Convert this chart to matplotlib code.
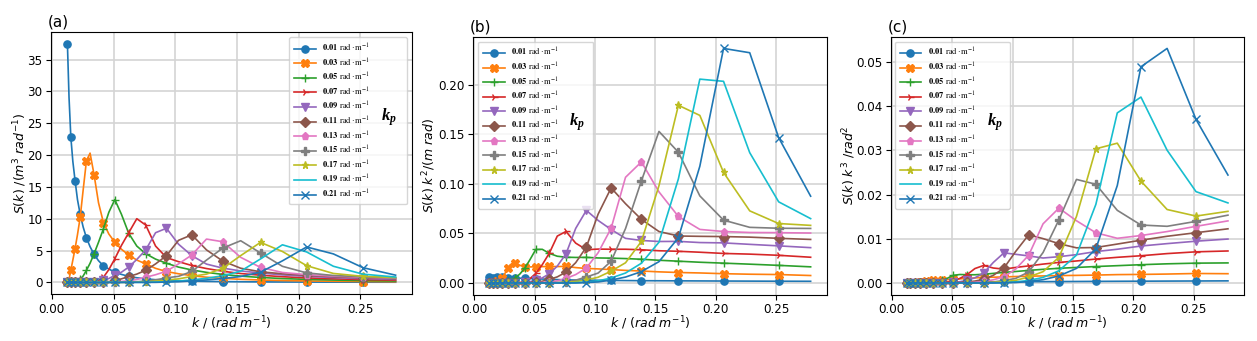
import numpy as np
import matplotlib
matplotlib.use('Agg')
import matplotlib.pyplot as plt
from matplotlib.font_manager import FontProperties

# wavenumber grid (rad/m)
k = [0.01260, 0.01392, 0.01538, 0.01700, 0.01879, 0.02076, 0.02294, 0.02535,
     0.02801, 0.03096, 0.03421, 0.03780, 0.04177, 0.04615, 0.05100, 0.05636,
     0.06228, 0.06882, 0.07604, 0.08403, 0.09285, 0.10260, 0.11337, 0.12528,
     0.13843, 0.15297, 0.16903, 0.18678, 0.20639, 0.22806, 0.25201, 0.27847]

kp_labels = ['0.01', '0.03', '0.05', '0.07', '0.09', '0.11',
             '0.13', '0.15', '0.17', '0.19', '0.21']

# spectra S(k) in m^3 rad^-1 for each peak wavenumber kp
s_kp001 = [37.5, 29.0, 22.8, 19.0, 16.0, 13.0, 10.7, 8.7, 7.0, 5.6, 4.4, 3.4, 2.6, 2.1,
           1.6, 1.25, 0.95, 0.72, 0.55, 0.42, 0.33, 0.26, 0.20, 0.155, 0.12, 0.095,
           0.075, 0.059, 0.046, 0.036, 0.028, 0.022]
s_kp003 = [0.05, 0.5, 1.9, 3.5, 5.3, 7.5, 10.2, 14.5, 19.1, 20.3, 16.9, 12.5, 9.4, 7.6,
           6.3, 5.2, 4.3, 3.5, 2.9, 2.2, 1.7, 1.35, 1.05, 0.81, 0.63, 0.48, 0.37, 0.29,
           0.22, 0.17, 0.134, 0.097]
s_kp005 = [0, 0, 0, 0, 0.02, 0.15, 0.5, 1.0, 1.9, 3.0, 4.5, 6.3, 8.4, 11.0, 13.0, 10.7,
           7.7, 5.7, 4.5, 3.65, 3.0, 2.4, 1.95, 1.57, 1.25, 0.98, 0.77, 0.60, 0.47,
           0.365, 0.28, 0.21]
s_kp007 = [0, 0, 0, 0, 0, 0, 0, 0, 0, 0, 0, 0.3, 0.8, 2.0, 3.7, 5.8, 7.8, 10.0, 9.0,
           5.7, 3.9, 3.25, 2.65, 2.17, 1.75, 1.39, 1.12, 0.89, 0.70, 0.56, 0.44, 0.335]
s_kp009 = [0, 0, 0, 0, 0, 0, 0, 0, 0, 0, 0.03, 0.1, 0.3, 0.6, 1.1, 1.6, 2.4, 3.6, 5.1,
           7.8, 8.5, 6.0, 4.2, 2.87, 2.24, 1.79, 1.47, 1.17, 0.95, 0.75, 0.59, 0.46]
s_kp011 = [0, 0, 0, 0, 0, 0, 0, 0, 0, 0, 0, 0, 0.05, 0.12, 0.3, 0.55, 0.92, 1.3, 1.9,
           2.9, 4.2, 6.6, 7.47, 5.1, 3.35, 2.22, 1.66, 1.35, 1.10, 0.89, 0.71, 0.567]
s_kp013 = [0, 0, 0, 0, 0, 0, 0, 0, 0, 0, 0, 0, 0, 0, 0.08, 0.15, 0.25, 0.45, 0.8, 1.2,
           1.75, 2.9, 4.3, 6.8, 6.38, 3.93, 2.35, 1.55, 1.22, 0.98, 0.80, 0.65]
s_kp015 = [0, 0, 0, 0, 0, 0, 0, 0, 0, 0, 0, 0, 0, 0, 0, 0, 0.05, 0.1, 0.2, 0.4, 0.7,
           0.95, 1.71, 3.5, 5.38, 6.54, 4.62, 2.52, 1.49, 1.08, 0.87, 0.71]
s_kp017 = [0, 0, 0, 0, 0, 0, 0, 0, 0, 0, 0, 0, 0, 0, 0, 0, 0, 0.05, 0.1, 0.2, 0.35,
           0.55, 0.93, 1.3, 2.19, 4.2, 6.28, 4.85, 2.62, 1.40, 0.945, 0.75]
s_kp019 = [0, 0, 0, 0, 0, 0, 0, 0, 0, 0, 0, 0, 0, 0, 0, 0, 0, 0, 0, 0.05, 0.1, 0.2,
           0.39, 0.64, 1.04, 1.76, 3.68, 5.9, 4.78, 2.53, 1.29, 0.838]
s_kp021 = [0, 0, 0, 0, 0, 0, 0, 0, 0, 0, 0, 0, 0, 0, 0, 0, 0, 0, 0, 0, 0.05, 0.1, 0.23,
           0.38, 0.6, 0.92, 1.6, 3.38, 5.56, 4.47, 2.31, 1.13]

spectra = [s_kp001, s_kp003, s_kp005, s_kp007, s_kp009, s_kp011,
           s_kp013, s_kp015, s_kp017, s_kp019, s_kp021]
markers = ['o', 'X', '+', '4', 'v', 'D', 'p', 'P', '*', '', 'x']

panel_titles = ['(a)', '(b)', '(c)']
powers = [0, 2, 3]
ylabels = [r'$S(k)$ /($m^3$ $rad^{-1}$)',
           r'$S(k)$ $k^2$/($m$ $rad$)',
           r'$S(k)$ $k^3$ /$rad^2$']
yticks = [np.arange(0, 36, 5), np.arange(0, 0.21, 0.05), np.arange(0, 0.051, 0.01)]
yfmt = ['{:.0f}', '{:.2f}', '{:.2f}']

plt.rcParams['mathtext.it'] = 'Liberation Serif:italic:bold'

W, H = 1257, 341
fig = plt.figure(figsize=(W / 100, H / 100), dpi=100)
boxes = [(51, 31.7, 412, 294.3), (473.3, 36.7, 826.7, 294.7), (891, 36.7, 1244, 294.7)]
# legend frames (pixels): left, top, right
leg_boxes = [(289.3, 37.3, 406.7), (478.3, 41.7, 593.3), (895, 41.7, 1010)]
ylabel_x = [20.5, 429.0, 849.0]
kp_pos = [(388.5, 117), (577.3, 121.7), (994.7, 121.7)]

karr = np.array(k)
leg_prop = FontProperties(size=6.0, math_fontfamily='stix')
for p in range(3):
    x0, y0, x1, y1 = boxes[p]
    aw, ah = x1 - x0, y1 - y0
    ax = fig.add_axes([x0 / W, 1 - y1 / H, aw / W, ah / H])
    for lab, s, m in zip(kp_labels, spectra, markers):
        y = np.array(s) * karr ** powers[p]
        ax.plot(karr, y, marker=m, markevery=2, ms=5.2, lw=1.2,
                label=r'$\mathbf{' + lab + r'}$ $\mathrm{rad\cdot m^{-1}}$')
    ax.grid(True, color='#d4d4d4', lw=1.2)
    ax.set_axisbelow(True)
    ax.set_xticks(np.arange(0, 0.26, 0.05))
    ax.set_xticklabels(['{:.2f}'.format(v) for v in np.arange(0, 0.26, 0.05)])
    ax.set_yticks(yticks[p])
    ax.set_yticklabels([yfmt[p].format(v) for v in yticks[p]])
    ax.tick_params(labelsize=8.6, pad=2.5)
    ax.set_xlabel(r'$k$ / ($rad$ $m^{-1}$)', fontsize=9)
    ax.xaxis.set_label_coords(0.5, (y1 - 314.5) / ah, transform=ax.transAxes)
    ax.xaxis.label.set_va('top')
    ax.set_ylabel(ylabels[p], fontsize=9)
    ax.yaxis.set_label_coords((ylabel_x[p] - x0) / aw, 0.5, transform=ax.transAxes)
    ax.yaxis.label.set_va('center')
    ax.set_title(panel_titles[p], loc='left', fontsize=11, pad=4, x=-0.01)
    lx0, ly0, lx1 = leg_boxes[p]
    ax.legend(loc='upper left', mode='expand',
              bbox_to_anchor=((lx0 - x0) / aw, 0, (lx1 - lx0) / aw, 1 - (ly0 - y0) / ah),
              borderaxespad=0, prop=leg_prop, labelspacing=0.3,
              handlelength=2.6, handletextpad=0.8, borderpad=0.55)
    kx, ky = kp_pos[p]
    fig.text(kx / W, 1 - ky / H, r'$k_p$', fontsize=12, math_fontfamily='custom',
             ha='center', va='center')

fig.savefig('out.png', dpi=100)
